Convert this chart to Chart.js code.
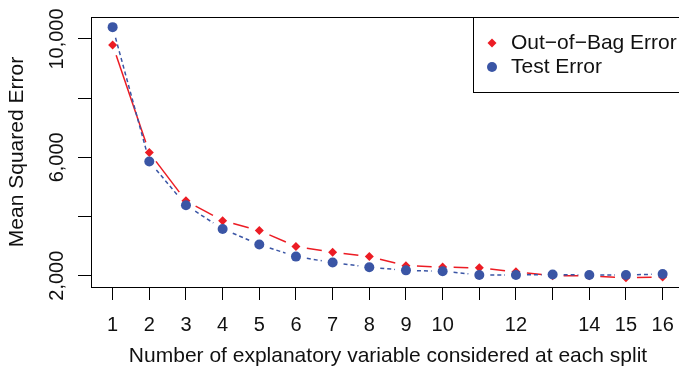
<!DOCTYPE html>
<html>
<head>
<meta charset="utf-8">
<script src="https://cdn.jsdelivr.net/npm/chart.js@4"></script>
<style>
  html, body { margin: 0; padding: 0; background: #fff; overflow: hidden; }
  #wrap { width: 679px; height: 370px; overflow: hidden; }
</style>
</head>
<body>
<div id="wrap"><canvas id="mseChart" width="690" height="370"></canvas></div>
<script>
// number of variables tried at each split (mtry)
const mtry = [1, 2, 3, 4, 5, 6, 7, 8, 9, 10, 11, 12, 13, 14, 15, 16];
const oobError = [9800, 6160, 4530, 3860, 3525, 2990, 2790, 2645, 2340, 2290, 2265, 2130, 2000, 1995, 1930, 1960];
const testError = [10400, 5860, 4380, 3580, 3055, 2645, 2445, 2285, 2180, 2150, 2025, 2025, 2040, 2025, 2025, 2055];

const xTicks = mtry;
const xLabels = [1, 2, 3, 4, 5, 6, 7, 8, 9, 10, 12, 14, 15, 16];
const yTicks = [2000, 4000, 6000, 8000, 10000];
const yLabels = [2000, 6000, 10000];

const RED = '#ec1c24';
const BLUE = '#3a55a5';
const FONT = "'Liberation Sans', Arial, Helvetica, sans-serif";

// R type="b": line broken around every point, optional dash pattern inside
function gapDash(len, gap, pattern) {
  const end = len - gap;
  const arr = [0, gap];
  if (end <= gap) return [0, len + 1];
  if (!pattern) return [0, gap, end - gap, len];
  let pos = gap, i = 0;
  while (pos < end) {
    const piece = Math.min(pattern[i % pattern.length], end - pos);
    arr.push(piece);
    pos += piece;
    i++;
  }
  if (arr.length % 2 === 1) arr.push(len);
  else arr[arr.length - 1] += len;
  return arr;
}
const segLen = c => Math.hypot(c.p1.x - c.p0.x, c.p1.y - c.p0.y);

const frameAndLegend = {
  id: 'frameAndLegend',
  afterDraw(chart) {
    const { ctx, chartArea: a } = chart;
    ctx.save();
    ctx.strokeStyle = '#000';
    ctx.lineWidth = 1;
    ctx.strokeRect(Math.round(a.left) + 0.5, Math.round(a.top) + 0.5,
      Math.round(a.right - a.left), Math.round(a.bottom - a.top));

    // legend box, top-right inside the plot
    const lx = 473, ly = Math.round(a.top), lh = 75;
    ctx.fillStyle = '#fff';
    ctx.fillRect(lx + 0.5, ly + 0.5, a.right - lx, lh);
    ctx.strokeRect(lx + 0.5, ly + 0.5, a.right - lx, lh);
    ctx.font = '21px ' + FONT;
    ctx.textBaseline = 'middle';
    ctx.textAlign = 'left';
    chart.data.datasets.forEach((ds, i) => {
      const y = ly + 26 + i * 24;
      ctx.fillStyle = ds.pointBackgroundColor;
      Chart.helpers.drawPoint(ctx, {
        pointStyle: ds.pointStyle, radius: ds.pointRadius, borderWidth: 0, rotation: 0
      }, lx + 19, y);
      ctx.fillStyle = '#111';
      ctx.fillText(ds.label, lx + 38, y);
    });
    ctx.restore();
  }
};

new Chart(document.getElementById('mseChart').getContext('2d'), {
  type: 'line',
  data: {
    datasets: [
      {
        label: 'Out\u2212of\u2212Bag Error',
        data: mtry.map((m, i) => ({ x: m, y: oobError[i] })),
        borderColor: RED,
        borderWidth: 1.5,
        pointStyle: 'rectRot',
        pointRadius: 4.5,
        pointBorderWidth: 0,
        pointBackgroundColor: RED,
        order: 1,
        segment: { borderDash: c => gapDash(segLen(c), 11) }
      },
      {
        label: 'Test Error',
        data: mtry.map((m, i) => ({ x: m, y: testError[i] })),
        borderColor: BLUE,
        borderWidth: 1.5,
        pointStyle: 'circle',
        pointRadius: 5,
        pointBorderWidth: 0,
        pointBackgroundColor: BLUE,
        order: 0,
        segment: { borderDash: c => gapDash(segLen(c), 11, [4, 3]) }
      }
    ]
  },
  options: {
    responsive: false,
    animation: false,
    devicePixelRatio: 1,
    layout: { padding: { top: 17, right: 5, left: 0, bottom: 0 } },
    plugins: { legend: { display: false }, tooltip: { enabled: false } },
    scales: {
      x: {
        type: 'linear',
        min: 0.41,
        max: 16.61,
        afterBuildTicks: s => { s.ticks = xTicks.map(v => ({ value: v })); },
        afterFit: s => { s.height = 83; },
        grid: { drawOnChartArea: false, drawTicks: true, tickLength: 13, color: '#000', lineWidth: 1 },
        border: { display: false },
        ticks: {
          autoSkip: false,
          maxRotation: 0,
          padding: 13,
          color: '#111',
          font: { family: FONT, size: 20 },
          callback: v => xLabels.includes(v) ? String(v) : ''
        },
        title: {
          display: true,
          text: 'Number of explanatory variable considered at each split',
          color: '#111',
          font: { family: FONT, size: 21 },
          padding: { top: 0, bottom: 1 }
        }
      },
      y: {
        type: 'linear',
        min: 1618,
        max: 10743,
        afterBuildTicks: s => { s.ticks = yTicks.map(v => ({ value: v })); },
        afterFit: s => { s.width = 91; },
        grid: { drawOnChartArea: false, drawTicks: true, tickLength: 13, color: '#000', lineWidth: 1 },
        border: { display: false },
        ticks: {
          minRotation: 90,
          maxRotation: 90,
          crossAlign: 'center',
          padding: -10,
          color: '#111',
          font: { family: FONT, size: 20 },
          callback: v => yLabels.includes(v) ? v.toLocaleString('en-US') : ''
        },
        title: {
          display: true,
          text: 'Mean Squared Error',
          color: '#111',
          font: { family: FONT, size: 21 },
          padding: { top: 5, bottom: 0 }
        }
      }
    }
  },
  plugins: [frameAndLegend]
});
</script>
</body>
</html>
